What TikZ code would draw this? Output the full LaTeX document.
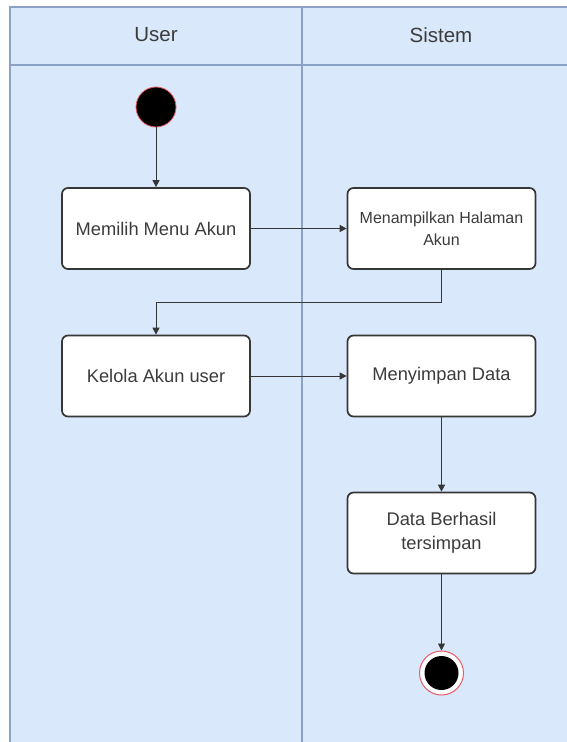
\documentclass[tikz,border=0pt]{standalone}
\usepackage{fontspec}
\setmainfont{Liberation Sans}
\usetikzlibrary{arrows.meta}

\definecolor{bahnBlau}{RGB}{218, 232, 252}
\definecolor{bahnRand}{RGB}{140, 162, 196}
\definecolor{boxGrau}{RGB}{54, 54, 54}
\definecolor{textGrau}{RGB}{60, 60, 60}
\definecolor{myRed}{RGB}{232, 90, 100}
\newcommand{\bahntitel}[3]{\node (#1) at (#2, 35) [text = textGrau] {\fontsize{20.5}{24}\selectfont #3};}

\tikzset{
  aktion/.style = {draw = boxGrau, fill = white, rounded corners = 6pt,
    line width = 1.7pt, minimum width = 188pt, minimum height = 81pt,
    inner sep = 0pt, align = center, text = textGrau,
    font = \fontsize{18.3}{24}\selectfont},
  pfeil/.style = {draw = boxGrau, line width = 0.9pt,
    -{Triangle[length = 7pt, width = 7pt]}}
}

\begin{document}
\begin{tikzpicture}[x = 1pt, y = -1pt]   % 1 Einheit = 1 Pixel der Vorlage
  % Bounding box
  \useasboundingbox (0, 0) rectangle (567, 742);
  \clip (0, 0) rectangle (567, 742);
  \fill [white] (0, 0) rectangle (567, 742);
  % Bahnen
  \filldraw [draw = bahnRand, fill = bahnBlau, line width = 1.3pt] (10, 7) rectangle (580, 760);
  \draw [bahnRand, line width = 1.3pt] (10, 65) -- (580, 65);
  \draw [bahnRand, line width = 1.3pt] (302, 7) -- (302, 760);
  \bahntitel{user}{156}{User}
  \bahntitel{sistem}{441}{Sistem}
  % Start
  \node (start) at (156, 107) [circle, fill = black, draw = myRed, line width = 0.8pt, minimum size = 40pt, inner sep = 0pt] {};
  % User links
  \node (memilih) at (156, 228.5) [aktion] {Memilih Menu Akun};
  \node (kelola) at (156, 376) [aktion] {Kelola Akun user};
  % Sistem rechts
  \node (menampilkan) at (441.5, 228.5) [aktion, font = \fontsize{16}{22}\selectfont] {Menampilkan Halaman\\Akun};
  \node (menyimpan) at (441.5, 376) [aktion] {Menyimpan Data};
  \node (berhasil) at (441.5, 533) [aktion] {Data Berhasil\\tersimpan};
  % Ende
  \node (ende) at (441.5, 673) [circle, fill = white, draw = myRed, line width = 1pt, minimum size = 44pt, inner sep = 0pt] {};
  \node (endeKern) at (ende) [circle, fill = black, minimum size = 34pt, inner sep = 0pt] {};
  % Pfeile
  \draw [pfeil] (start) -- (memilih);
  \draw [pfeil] (memilih) -- (menampilkan);
  \draw [pfeil] (menampilkan.south) -- ++(0, 33) -| (kelola.north);
  \draw [pfeil] (kelola) -- (menyimpan);
  \draw [pfeil] (menyimpan) -- (berhasil);
  \draw [pfeil] (berhasil) -- (ende);
\end{tikzpicture}
\end{document}
